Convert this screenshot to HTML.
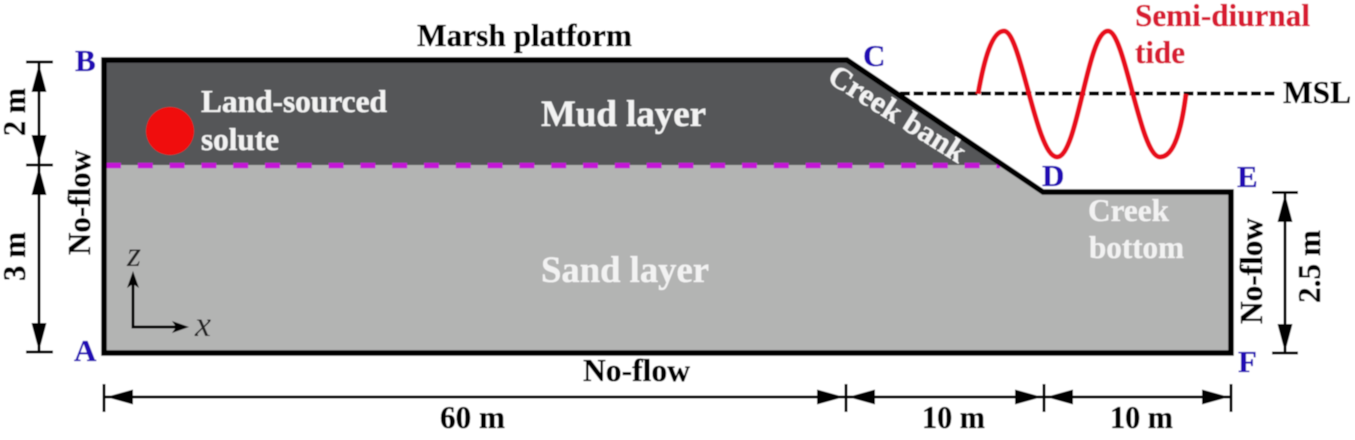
<!DOCTYPE html>
<html>
<head>
<meta charset="utf-8">
<style>
html,body{margin:0;padding:0;background:#fff;width:1355px;height:440px;overflow:hidden}
svg{display:block}
text{font-family:"Liberation Serif",serif;font-weight:bold}
.h text{stroke:currentColor;stroke-width:.35px}
</style>
</head>
<body>
<svg width="1355" height="440" viewBox="0 0 1355 440" xmlns="http://www.w3.org/2000/svg">
<defs><filter id="b" x="0" y="0" width="100%" height="100%"><feGaussianBlur stdDeviation="0.55"/></filter></defs>
<g filter="url(#b)">
<rect width="1355" height="440" fill="#fff"/>
<polygon points="104,60 847,60 1043,192 1231,192 1231,353 104,353" fill="#b3b4b3"/>
<polygon points="104,60 847,60 1001,165 104,165" fill="#545658"/>
<line x1="106" y1="165.500" x2="1000" y2="165.500" stroke="#c414d6" stroke-width="5.500" stroke-dasharray="15 16.800"/>
<polygon points="104,60 847,60 1043,192 1231,192 1231,353 104,353" fill="none" stroke="#000" stroke-width="5.500"/>
<circle cx="170" cy="131" r="24" fill="#f01010"/>
<line x1="900" y1="93.500" x2="1276" y2="93.500" stroke="#000" stroke-width="4" stroke-dasharray="10 3.500"/>
<path d="M978 94 C984 60 992 31 1004 31 C1021 31 1036 157 1057 157 C1078 157 1087 31 1108 31 C1125 31 1140 157 1160 157 C1175 157 1182 125 1186 94" fill="none" stroke="#e8101c" stroke-width="5"/>

<g stroke="#000" stroke-width="3" fill="none">
<path d="M26 62H53M26 165H53M26 352H53M39 62V352"/>
<path d="M104 384V412M846 384V412M1044 384V412M1231 384V412M104 397H1231"/>
<path d="M1272 192.500H1298M1272 353H1298M1285 192V353"/>
<path d="M133 278V327H180"/>
</g>
<g fill="#000">
<path d="M39 64L31.500 92H46.500ZM39 163L31.500 135H46.500ZM39 167L31.500 195H46.500ZM39 351L31.500 323H46.500Z"/>
<path d="M106 397L133 389.500V404.500ZM844 397L817 389.500V404.500ZM848 397L875 389.500V404.500ZM1042 397L1015 389.500V404.500ZM1046 397L1073 389.500V404.500ZM1229 397L1202 389.500V404.500Z"/>
<path d="M1285 194L1277.500 222H1292.500ZM1285 352L1277.500 324H1292.500Z"/>
<path d="M133 271L127 288L133 284L139 288ZM189 327L172 321L176 327L172 333Z"/>
</g>

<g class="h" font-size="31.300" fill="#000" color="#000">
<text x="417" y="46" textLength="215" lengthAdjust="spacingAndGlyphs">Marsh platform</text>
<text x="583" y="381" textLength="107" lengthAdjust="spacingAndGlyphs">No-flow</text>
<text x="440" y="428" textLength="65" lengthAdjust="spacingAndGlyphs">60 m</text>
<text x="922" y="428" textLength="63" lengthAdjust="spacingAndGlyphs">10 m</text>
<text x="1110" y="428" textLength="63" lengthAdjust="spacingAndGlyphs">10 m</text>
<text x="1283" y="103" textLength="68" lengthAdjust="spacingAndGlyphs">MSL</text>
<text transform="translate(90,255) rotate(-90)" textLength="105" lengthAdjust="spacingAndGlyphs">No-flow</text>
<text transform="translate(1262,324) rotate(-90)" textLength="106" lengthAdjust="spacingAndGlyphs">No-flow</text>
<text transform="translate(25,136) rotate(-90)" textLength="48" lengthAdjust="spacingAndGlyphs">2 m</text>
<text transform="translate(25,281) rotate(-90)" textLength="49" lengthAdjust="spacingAndGlyphs">3 m</text>
<text transform="translate(1320,303) rotate(-90)" textLength="73" lengthAdjust="spacingAndGlyphs">2.5 m</text>
</g>

<g class="h" fill="#f2f2f2" color="#f2f2f2">
<text x="201" y="112" font-size="31.300" textLength="186" lengthAdjust="spacingAndGlyphs">Land-sourced</text>
<text x="201" y="150" font-size="31.300" textLength="78" lengthAdjust="spacingAndGlyphs">solute</text>
<text x="541" y="126" font-size="37" textLength="165" lengthAdjust="spacingAndGlyphs">Mud layer</text>
<text x="541" y="282" font-size="37" textLength="168" lengthAdjust="spacingAndGlyphs">Sand layer</text>
<text x="1088" y="221" font-size="31.300" textLength="81" lengthAdjust="spacingAndGlyphs">Creek</text>
<text x="1089" y="258" font-size="31.300" textLength="95" lengthAdjust="spacingAndGlyphs">bottom</text>
<text transform="translate(826,81) rotate(32)" font-size="31" textLength="156" lengthAdjust="spacingAndGlyphs">Creek bank</text>
</g>

<g class="h" fill="#d81c30" color="#d81c30" font-size="31.300">
<text x="1135" y="26" textLength="175" lengthAdjust="spacingAndGlyphs">Semi-diurnal</text>
<text x="1135" y="63" textLength="50" lengthAdjust="spacingAndGlyphs">tide</text>
</g>

<g class="h" fill="#2410b4" color="#2410b4" font-size="31">
<text x="75" y="71">B</text>
<text x="863" y="66">C</text>
<text x="1042" y="186">D</text>
<text x="1237" y="187">E</text>
<text x="1238" y="372">F</text>
<text x="74" y="361">A</text>
</g>

<g fill="#222" font-size="36">
<text x="127" y="266" style="font-style:italic;font-weight:normal">z</text>
<text x="195" y="336" style="font-style:italic;font-weight:normal">x</text>
</g>
</g>
</svg>
</body>
</html>
